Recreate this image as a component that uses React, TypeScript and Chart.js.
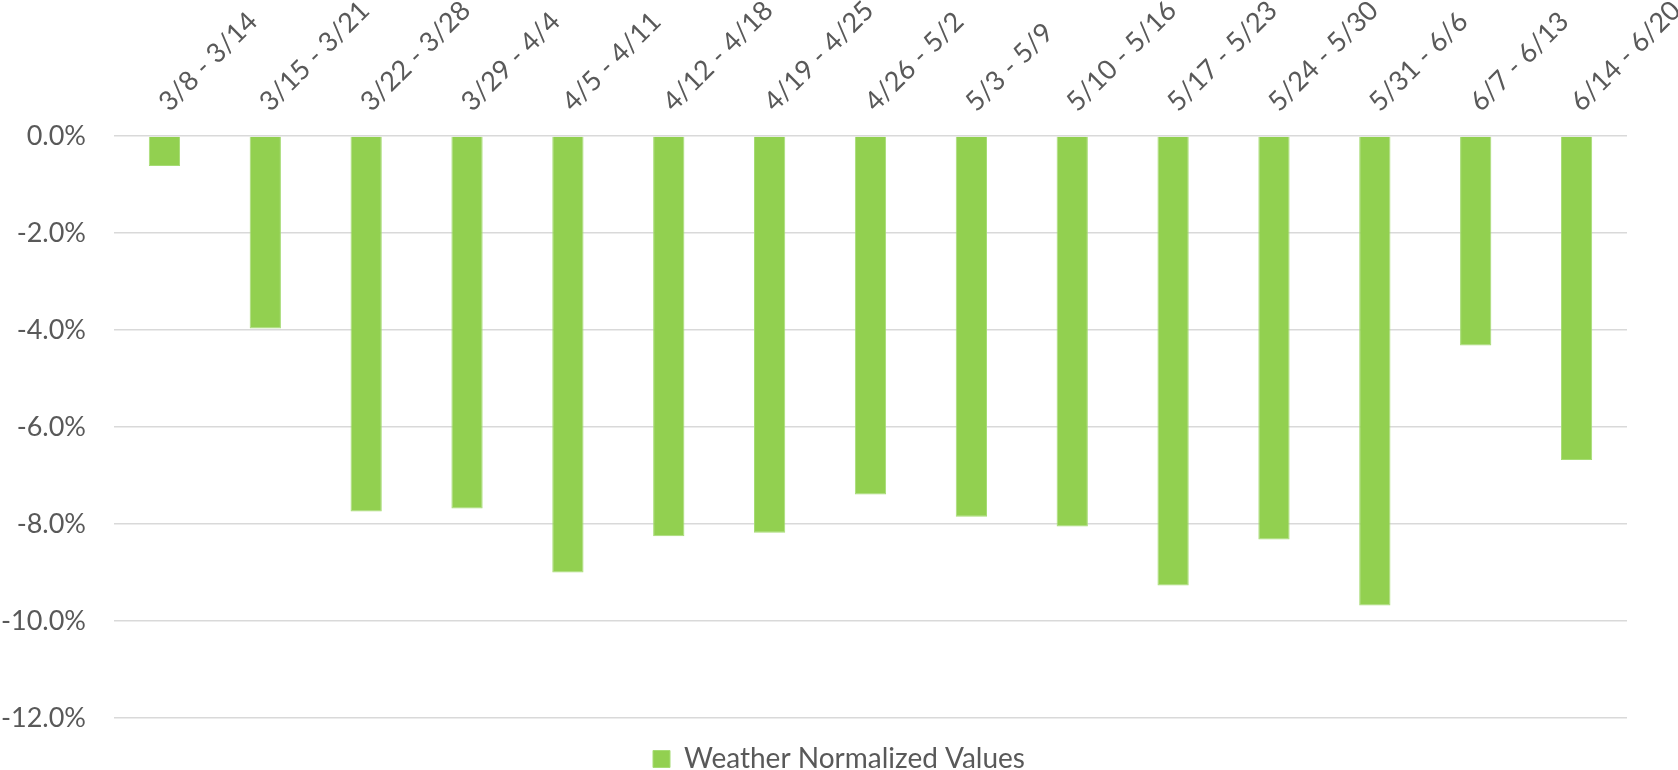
import React, { useEffect, useRef } from "react";
import { Chart, registerables } from "chart.js";

Chart.register(...registerables);

const categories = [
  "3/8 - 3/14", "3/15 - 3/21", "3/22 - 3/28", "3/29 - 4/4", "4/5 - 4/11",
  "4/12 - 4/18", "4/19 - 4/25", "4/26 - 5/2", "5/3 - 5/9", "5/10 - 5/16",
  "5/17 - 5/23", "5/24 - 5/30", "5/31 - 6/6", "6/7 - 6/13", "6/14 - 6/20",
];
const seriesName = "Weather Normalized Values";
const values = [
  -0.62, -3.97, -7.74, -7.68, -9.0, -8.25, -8.18, -7.39, -7.85, -8.05,
  -9.27, -8.32, -9.68, -4.32, -6.68,
];
const yMin = -12;
const yMax = 0;
const yStep = 2;

const FONT = "Lato";
const TEXT = "#595959";

export default function App() {
  const ref = useRef<HTMLCanvasElement | null>(null);
  useEffect(() => {
    if (!ref.current) return;
    const chart = new Chart(ref.current, {
      type: "bar",
      data: {
        labels: categories,
        datasets: [
          {
            label: seriesName,
            data: values,
            backgroundColor: "#92d050",
            borderColor: "#a6dc74",
            borderWidth: 1,
            barPercentage: 0.31,
            categoryPercentage: 1,
          },
        ],
      },
      options: {
        animation: false,
        responsive: true,
        maintainAspectRatio: false,
        layout: { padding: { left: 0, right: 0, top: 0, bottom: -13 } },
        plugins: {
          legend: {
            position: "bottom",
            labels: {
              font: { family: FONT, size: 28 },
              color: TEXT,
              boxWidth: 17,
              boxHeight: 17,
              padding: 27,
            },
          },
          tooltip: { enabled: false },
        },
        scales: {
          x: {
            position: "top",
            grid: { display: false, drawTicks: false },
            border: { display: false },
            ticks: {
              font: { family: FONT, size: 27 },
              color: TEXT,
              minRotation: 45,
              maxRotation: 45,
              padding: 18,
              labelOffset: 22,
              autoSkip: false,
            },
            afterFit: (s: any) => {
              s.height = 136;
              s.paddingLeft = 0;
              s.paddingRight = 51;
            },
          },
          y: {
            min: yMin,
            max: yMax,
            grid: { color: "#d9d9d9", lineWidth: 1.5, drawTicks: false },
            border: { display: false },
            ticks: {
              stepSize: yStep,
              font: { family: FONT, size: 27 },
              color: TEXT,
              padding: 28,
              callback: (v: any) => Number(v).toFixed(1) + "%",
            },
            afterFit: (s: any) => {
              s.width = 114;
            },
          },
        },
      },
    });
    return () => chart.destroy();
  }, []);
  return (
    <div style={{ position: "fixed", left: 0, top: 0, width: "100vw", height: "100vh", background: "#fff" }}>
      <canvas ref={ref} />
    </div>
  );
}
